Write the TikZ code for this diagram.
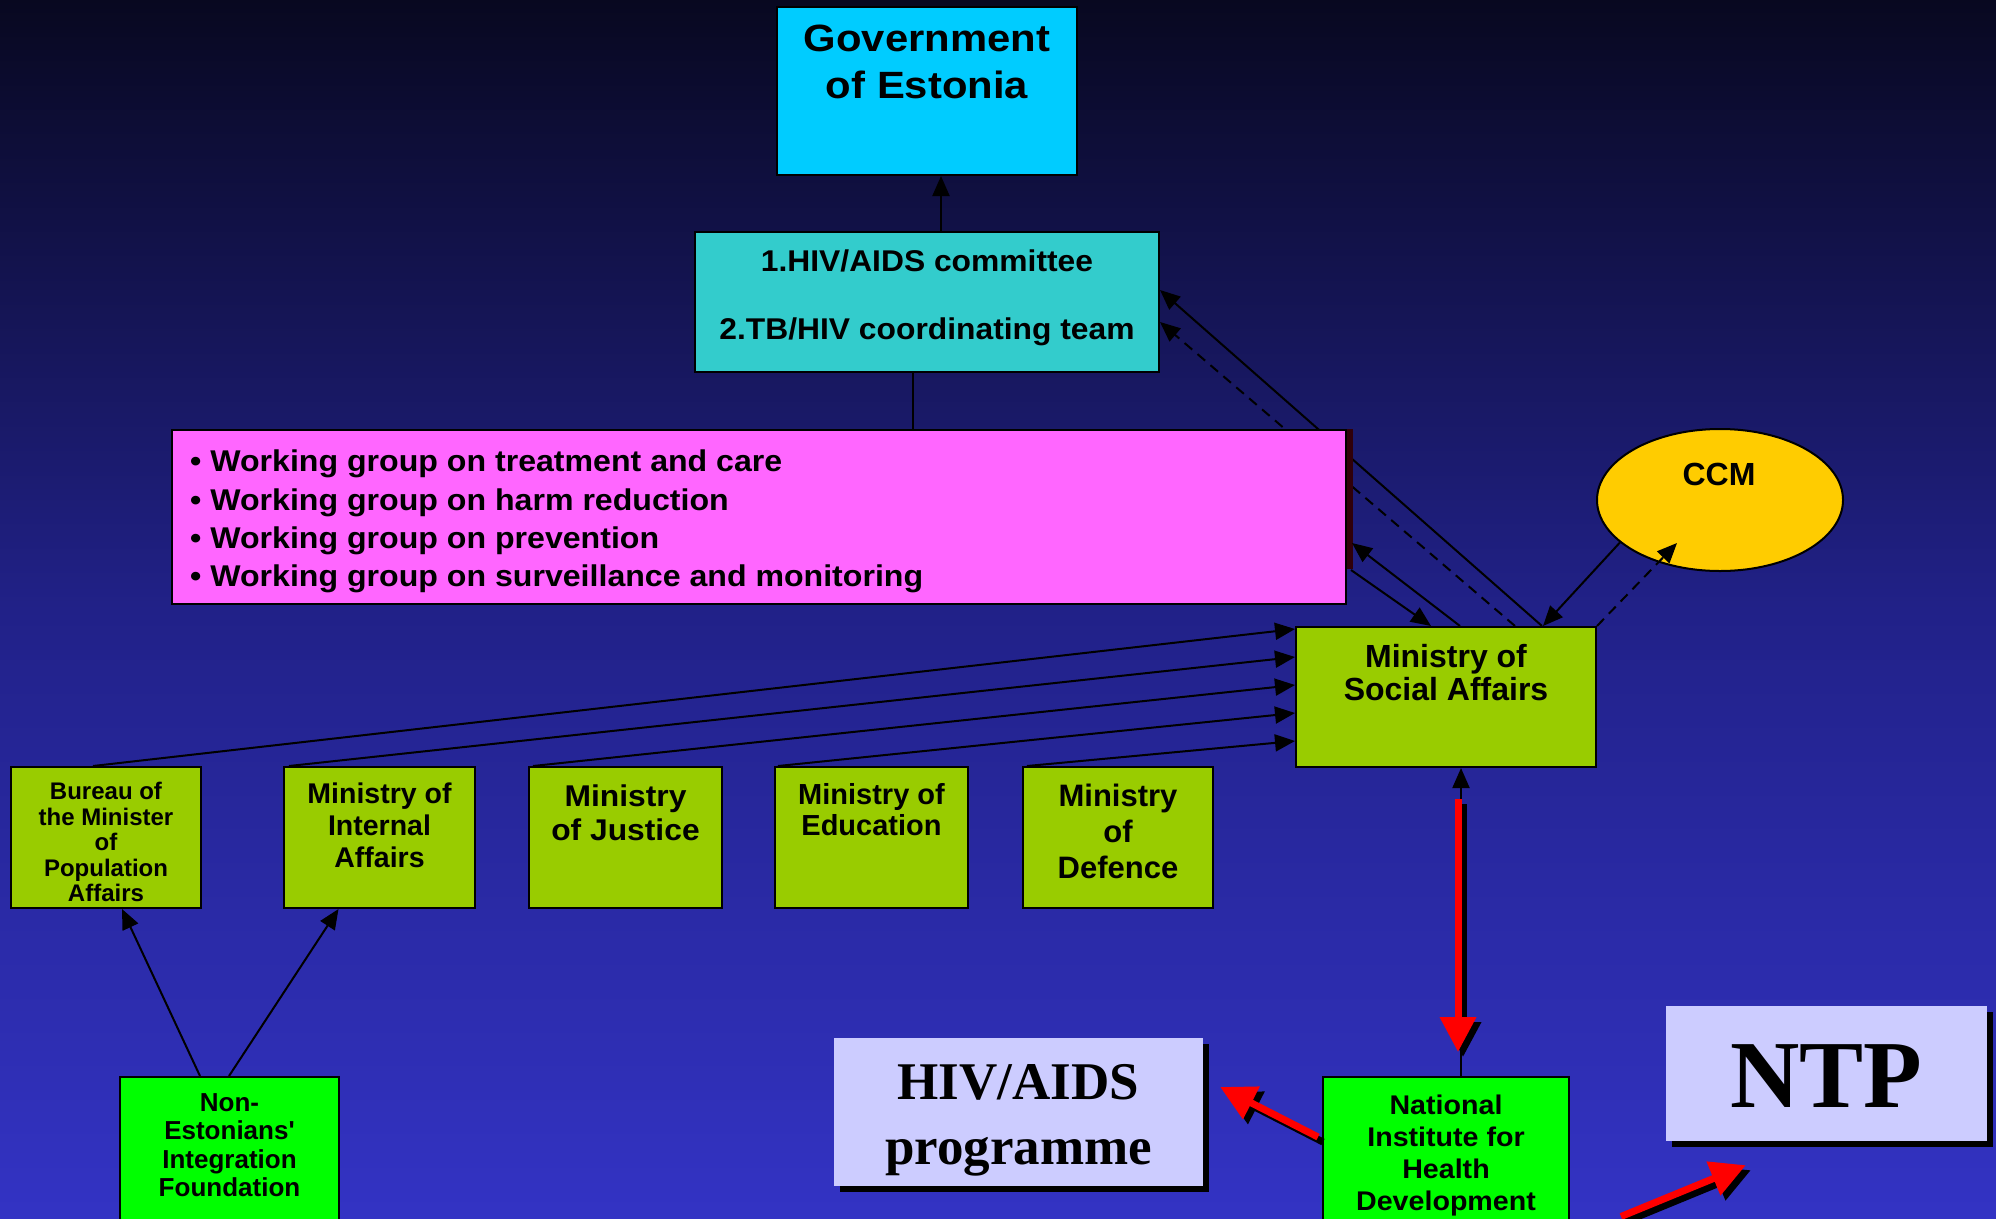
\documentclass[tikz,border=0pt]{standalone}
\usepackage{fontspec}
\setmainfont{Liberation Sans}
\newfontfamily\govfont{Liberation Sans}[FakeStretch=1.1]
\newfontfamily\widefont{Liberation Sans}[FakeStretch=1.06]
\newfontfamily\widerfont{Liberation Sans}[FakeStretch=1.07]
\newfontfamily\serifb{Liberation Serif}
\usetikzlibrary{arrows.meta,calc,shapes.geometric,shadows}
\definecolor{bgtop}{RGB}{8,8,32}
\definecolor{bgmid}{RGB}{33,33,136}
\definecolor{bgbot}{RGB}{51,51,196}
\definecolor{govblue}{HTML}{00CCFF}
\definecolor{comteal}{HTML}{33CCCC}
\definecolor{wgpink}{HTML}{FF66FF}
\definecolor{ccmyellow}{HTML}{FFCC00}
\definecolor{minigreen}{HTML}{99CC00}
\definecolor{brightgreen}{HTML}{00FF00}
\definecolor{lavender}{HTML}{CCCCFF}
\definecolor{pinkshadow}{RGB}{48,0,10}
\pgfdeclarelayer{under}
\pgfsetlayers{under,main}
\pgfdeclareverticalshading{bgshade}{100bp}{color(0bp)=(bgbot); color(25bp)=(bgbot); color(50bp)=(bgmid); color(75bp)=(bgtop); color(100bp)=(bgtop)}
\tikzset{
  box/.style={draw=black, line width=2pt, inner sep=0pt},
  txt/.style={inner sep=0pt, align=center, anchor=north, text=black},
  conn/.style={draw=black, line width=2pt, -{Triangle[length=20pt,width=17pt]}},
  dashline/.style={dash pattern=on 10pt off 7pt},
  redarrow/.style={draw=red, line width=7pt, -{Triangle[length=35pt,width=35pt]}},
  redshadow/.style={draw=black, line width=7pt, -{Triangle[length=35pt,width=35pt]}, transform canvas={xshift=5pt,yshift=-5pt}},
  lavbox/.style={fill=lavender, inner sep=0pt, drop shadow={shadow xshift=6pt, shadow yshift=-6pt, fill=black, opacity=1}}
}
\begin{document}
\begin{tikzpicture}[x=1pt,y=-1pt]
\useasboundingbox (0,0) rectangle (1996,1218);
\begin{pgfonlayer}{under}
\shade[shading=bgshade] (0,0) rectangle (1996,1218);
\end{pgfonlayer}

% boxes
\node[box, fill=govblue, minimum width=300, minimum height=168] (gov) at (927,91) {};
\node[box, fill=comteal, minimum width=464, minimum height=140] (com) at (927,302) {};
\node[box, fill=wgpink, minimum width=1174, minimum height=174] (wg) at (759,517) {};
\node[box, ellipse, fill=ccmyellow, minimum width=246, minimum height=142] (ccm) at (1720,500) {};
\node[box, fill=minigreen, minimum width=300, minimum height=140] (msa) at (1446,697) {};
\node[box, fill=minigreen, minimum width=190, minimum height=141] (bur) at (106,837.5) {};
\node[box, fill=minigreen, minimum width=191, minimum height=141] (int) at (379.5,837.5) {};
\node[box, fill=minigreen, minimum width=193, minimum height=141] (jus) at (625.5,837.5) {};
\node[box, fill=minigreen, minimum width=193, minimum height=141] (edu) at (871.5,837.5) {};
\node[box, fill=minigreen, minimum width=190, minimum height=141] (def) at (1118,837.5) {};
\node[box, fill=brightgreen, minimum width=219, minimum height=160] (nef) at (229.5,1157) {};
\node[box, fill=brightgreen, minimum width=246, minimum height=160] (nih) at (1446,1157) {};
\node[lavbox, minimum width=369, minimum height=148] (hap) at (1018.5,1112) {};
\node[lavbox, minimum width=321, minimum height=135] (ntp) at (1826.5,1073.5) {};
\fill[pinkshadow] (wg.north east) rectangle ($(wg.north east)+(6,140)$);

% texts
\node[txt, font=\govfont\bfseries\fontsize{38}{47}\selectfont] (govt) at (927,25) {Government\\of Estonia};
\node[txt, font=\widefont\bfseries\fontsize{30}{68}\selectfont] (comt) at (927,250) {1.HIV/AIDS committee\\2.TB/HIV coordinating team};
\node[txt, anchor=north west, align=left, font=\widerfont\bfseries\fontsize{30}{38.3}\selectfont] (wgt) at (190,450) {• Working group on treatment and care\\• Working group on harm reduction\\• Working group on prevention\\• Working group on surveillance and monitoring};
\node[txt, font=\bfseries\fontsize{32}{36}\selectfont] (ccmt) at (1719,463) {CCM};
\node[txt, font=\bfseries\fontsize{32}{33}\selectfont] (msat) at (1446,644) {Ministry of\\Social Affairs};
\node[txt, font=\bfseries\fontsize{24}{25.5}\selectfont] (burt) at (106,782) {Bureau of\\the Minister\\of\\Population\\Affairs};
\node[txt, font=\bfseries\fontsize{28.5}{32}\selectfont] (intt) at (379.5,782.5) {Ministry of\\Internal\\Affairs};
\node[txt, font=\widefont\bfseries\fontsize{30}{34}\selectfont] (just) at (625.5,784.5) {Ministry\\of Justice};
\node[txt, font=\bfseries\fontsize{29}{31}\selectfont] (edut) at (871.5,783) {Ministry of\\Education};
\node[txt, font=\bfseries\fontsize{31}{36}\selectfont] (deft) at (1118,783.5) {Ministry\\of\\Defence};
\node[txt, font=\bfseries\fontsize{26}{28.3}\selectfont] (neft) at (229.5,1093.5) {Non-\\Estonians\textquotesingle\\Integration\\Foundation};
\node[txt, font=\widefont\bfseries\fontsize{27}{32.2}\selectfont] (niht) at (1446,1094.5) {National\\Institute for\\Health\\Development};
\node[txt, font=\serifb\bfseries\fontsize{53}{65}\selectfont] (hapt) at (1018.5,1064) {HIV/AIDS\\programme};
\node[txt, font=\serifb\bfseries\fontsize{96}{100}\selectfont] (ntpt) at (1826.5,1044.5) {NTP};

% connectors passing under the working-group box
\begin{pgfonlayer}{under}
\draw[conn] ([xshift=96]msa.north) -- ([yshift=12]com.east);
\draw[conn, dashline] ([xshift=69]msa.north) -- ([yshift=-20]com.east);
\end{pgfonlayer}

% connectors
\draw[conn] ([xshift=14]com.north) -- ([xshift=14]gov.south);
\draw[line width=2pt] ([xshift=-14]com.south) -- ([xshift=-14]com.south |- wg.north);
\draw[conn] ([xshift=-13]bur.north) -- ([yshift=68]msa.west);
\draw[conn] ([xshift=6]int.north west) -- ([yshift=40]msa.west);
\draw[conn] ([xshift=5]jus.north west) -- ([yshift=12]msa.west);
\draw[conn] ([xshift=4]edu.north west) -- ([yshift=-16]msa.west);
\draw[conn] ([xshift=5]def.north west) -- ([yshift=-44]msa.west);
\draw[conn] ([xshift=14]msa.north) -- ([xshift=5,yshift=-26]wg.east);
\draw[conn] ([xshift=4,yshift=-53]wg.east) -- ([xshift=-15]msa.north);
\draw[conn] (ccm.203) -- ([xshift=97]msa.north);
\draw[conn, dashline] (msa.north east) -- ($(ccm.center)+(-43,43)$);
\draw[conn] ([xshift=81]nef.north west) -- ([xshift=16]bur.south);
\draw[conn] ([xshift=110]nef.north west) -- ([xshift=-41]int.south);
\draw[conn] ([xshift=15]nih.north) -- ([xshift=15]msa.south);

% red arrows with shadows
\coordinate (r1s) at ([xshift=12,yshift=-31]msa.south);
\coordinate (r1e) at ([xshift=12,yshift=24]nih.north);
\coordinate (r2s) at ($(nih.north west)+(-4,61)$);
\coordinate (r2e) at ($(hap.east)+(17,-25)$);
\coordinate (r3s) at ($(nih.east)+(51,59.5)$);
\coordinate (r3e) at ($(ntp.south west)+(80,24)$);
\draw[redshadow] (r1s) -- (r1e);
\draw[redarrow] (r1s) -- (r1e);
\draw[redshadow] (r2s) -- (r2e);
\draw[redarrow] (r2s) -- (r2e);
\draw[redshadow] (r3s) -- (r3e);
\draw[redarrow] (r3s) -- (r3e);
\end{tikzpicture}
\end{document}
